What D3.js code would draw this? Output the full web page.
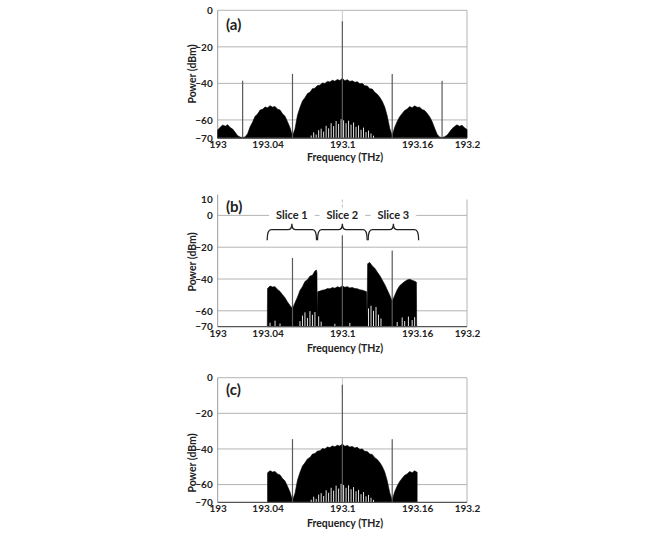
<!DOCTYPE html>
<html>
<head>
<meta charset="utf-8">
<script src="https://cdn.jsdelivr.net/npm/d3@7"></script>
<style>
  html, body { margin: 0; padding: 0; background: #fff; }
  svg { display: block; }
  text { font-family: Lato, "Open Sans", sans-serif; font-weight: bold; fill: #222; }
</style>
</head>
<body>
<div id="chart"></div>
<script>
"use strict";

// x ticks shared by all three panels
const freqTicks = [193, 193.04, 193.1, 193.16, 193.2];
const freqTickLabels = ["193", "193.04", "193.1", "193.16", "193.2"];

const powerTicksAC = [0, -20, -40, -60, -70];
const powerTicksB = [10, 0, -20, -40, -60, -70];

// spectrum (a): upper envelope [THz, dBm], (c) is the same spectrum after filtering
const spectrumA = [
  [193.000, -65.5], [193.002, -64.0], [193.004, -62.8], [193.006, -63.4], [193.008, -62.6],
  [193.010, -64.2], [193.012, -65.0], [193.014, -66.8], [193.016, -68.6], [193.018, -69.4],
  [193.020, -69.6], [193.022, -69.3], [193.024, -67.5], [193.026, -63.8], [193.028, -61.2],
  [193.030, -58.0], [193.032, -56.8], [193.034, -54.6], [193.036, -54.2], [193.038, -52.9],
  [193.040, -53.4], [193.042, -52.2], [193.044, -53.0], [193.046, -52.6], [193.048, -54.1],
  [193.050, -54.6], [193.052, -56.6], [193.054, -58.0], [193.056, -61.0], [193.058, -64.2],
  [193.060, -68.8], [193.062, -65.0], [193.064, -57.5], [193.066, -53.2], [193.068, -49.6],
  [193.070, -47.8], [193.072, -45.6], [193.074, -44.8], [193.076, -42.9], [193.078, -42.6],
  [193.080, -41.2], [193.082, -41.0], [193.084, -39.8], [193.086, -40.0], [193.088, -38.9],
  [193.090, -39.2], [193.092, -38.3], [193.094, -38.8], [193.096, -37.9], [193.098, -38.4],
  [193.100, -37.2], [193.102, -38.5], [193.104, -38.0], [193.106, -38.9], [193.108, -38.6],
  [193.110, -39.4], [193.112, -39.1], [193.114, -40.2], [193.116, -40.0], [193.118, -41.3],
  [193.120, -41.4], [193.122, -42.9], [193.124, -43.1], [193.126, -44.9], [193.128, -45.9],
  [193.130, -47.6], [193.132, -49.8], [193.134, -52.9], [193.136, -57.8], [193.138, -64.6],
  [193.140, -68.6], [193.142, -64.0], [193.144, -60.8], [193.146, -58.2], [193.148, -56.5],
  [193.150, -54.8], [193.152, -54.0], [193.154, -52.7], [193.156, -53.3], [193.158, -52.3],
  [193.160, -53.1], [193.162, -53.0], [193.164, -54.3], [193.166, -54.8], [193.168, -56.4],
  [193.170, -58.2], [193.172, -60.9], [193.174, -64.4], [193.176, -67.8], [193.178, -69.4],
  [193.180, -69.6], [193.182, -69.2], [193.184, -68.4], [193.186, -66.6], [193.188, -64.8],
  [193.190, -63.6], [193.192, -62.7], [193.194, -63.5], [193.196, -62.9], [193.198, -64.3],
  [193.200, -65.2],
];

// troughs between comb lines near the floor (white gaps)
const gapsA = [
  [193.075, -68.5], [193.077, -66.8], [193.079, -68.0], [193.081, -65.6], [193.083, -64.8],
  [193.085, -66.4], [193.087, -63.2], [193.089, -64.6], [193.091, -61.8], [193.093, -63.4],
  [193.095, -60.6], [193.097, -62.2], [193.099, -59.6], [193.101, -60.2], [193.103, -61.8],
  [193.105, -60.4], [193.107, -62.6], [193.109, -61.4], [193.111, -63.8], [193.113, -63.0],
  [193.115, -65.4], [193.117, -64.2], [193.119, -66.6], [193.121, -65.8], [193.123, -67.4],
  [193.125, -68.6],
];

const carriersA = [[193.02, -38.5], [193.06, -34.8], [193.1, -6], [193.14, -34.8], [193.18, -38.5]];
const carriersC = [[193.06, -34.5], [193.1, -4], [193.14, -34.5]];
const bandC = [193.04, 193.16];

// spectrum (b): three slices
const spectrumB = [
  [193.0398, -70], [193.040, -46.0], [193.042, -44.4], [193.044, -45.0], [193.046, -44.8],
  [193.048, -46.6], [193.050, -47.8], [193.052, -49.9], [193.054, -51.8], [193.056, -54.4],
  [193.058, -56.6], [193.060, -58.5], [193.062, -55.0], [193.064, -51.4], [193.066, -47.2],
  [193.068, -44.8], [193.070, -41.6], [193.072, -40.4], [193.074, -38.2], [193.076, -37.6],
  [193.078, -35.0], [193.0792, -34.4], [193.0796, -36.0], [193.0799, -64.0],
  [193.0803, -48.0], [193.082, -47.6], [193.084, -47.0], [193.086, -46.8], [193.088, -46.0],
  [193.090, -46.2], [193.092, -45.4], [193.094, -45.8], [193.096, -44.9], [193.098, -45.3],
  [193.100, -44.4], [193.102, -45.2], [193.104, -44.8], [193.106, -45.6], [193.108, -45.3],
  [193.110, -46.0], [193.112, -46.1], [193.114, -46.8], [193.116, -47.0], [193.118, -47.6],
  [193.1194, -48.0], [193.1198, -64.0],
  [193.1203, -30.4], [193.122, -29.6], [193.124, -31.8], [193.126, -33.2], [193.128, -35.6],
  [193.130, -37.8], [193.132, -40.6], [193.134, -43.4], [193.136, -46.8], [193.138, -50.2],
  [193.140, -54.0], [193.142, -50.4], [193.144, -46.8], [193.146, -44.2], [193.148, -42.9],
  [193.150, -41.6], [193.152, -40.6], [193.154, -40.2], [193.156, -40.8], [193.158, -41.4],
  [193.1594, -42.0], [193.1596, -70],
];

const gapsB = [
  [193.042, -67.5], [193.046, -66.2], [193.050, -68.0], [193.066, -66.5], [193.068, -63.0],
  [193.070, -61.0], [193.072, -64.5], [193.074, -60.2], [193.076, -62.5], [193.078, -60.8],
  [193.081, -63.5], [193.083, -66.8], [193.094, -68.2], [193.106, -67.6], [193.121, -58.5],
  [193.123, -56.8], [193.125, -60.0], [193.127, -57.6], [193.129, -62.4], [193.131, -64.8],
  [193.144, -67.0], [193.148, -64.2], [193.150, -66.5], [193.153, -63.6], [193.156, -65.8],
  [193.158, -64.0],
];

const carriersB = [[193.06, -26.8], [193.1, -12.5], [193.14, -22]];

const sliceLabels = ["Slice 1", "Slice 2", "Slice 3"];
const sliceStart = [193.0397, 193.0801, 193.1207];
const sliceEnd = [193.0793, 193.1199, 193.1612];

const W = 647, H = 536;

const svg = d3.select("#chart").append("svg")
  .attr("width", W).attr("height", H);
svg.append("rect").attr("width", W).attr("height", H).attr("fill", "#fff");

const x = d3.scaleLinear().domain([193, 193.2]).range([217.7, 467]);

const panels = [
  {
    name: "(a)", ticks: powerTicksAC, grid: [0, -20, -40, -60],
    y: d3.scaleLinear().domain([-70, 0]).range([138.2, 10.3]),
    spectrum: spectrumA, gaps: gapsA, carriers: carriersA,
    labelY: 30, xTitleY: 161, yTitleY: 74,
  },
  {
    name: "(b)", ticks: powerTicksB, grid: [0, -20, -40, -60],
    y: d3.scaleLinear().domain([-70, 10]).range([326.7, 199.5]),
    spectrum: spectrumB, gaps: gapsB, carriers: carriersB,
    labelY: 211.5, xTitleY: 351.5, yTitleY: 262, slices: true,
  },
  {
    name: "(c)", ticks: powerTicksAC, grid: [0, -20, -40, -60],
    y: d3.scaleLinear().domain([-70, 0]).range([502.4, 377.7]),
    spectrum: spectrumA.filter((d) => d[0] >= bandC[0] && d[0] <= bandC[1]),
    gaps: gapsA, carriers: carriersC,
    labelY: 395, xTitleY: 527, yTitleY: 463, band: bandC,
  },
];

panels.forEach(drawPanel);

function drawPanel(p) {
  const y = p.y;
  const g = svg.append("g");
  const top = y.range()[1];
  const bottom = y(-70);

  // gridlines
  g.selectAll(".grid")
    .data(p.grid)
    .enter()
    .append("line")
    .attr("x1", x(193)).attr("x2", x(193.2))
    .attr("y1", (d) => y(d)).attr("y2", (d) => y(d))
    .attr("stroke", "#b4b4b4").attr("stroke-width", 1);

  // frame: left, right
  const frameTop = p.slices ? top - 5 : top;
  g.append("line").attr("x1", x(193)).attr("x2", x(193))
    .attr("y1", frameTop).attr("y2", bottom).attr("stroke", "#9a9a9a");
  g.append("line").attr("x1", x(193.2)).attr("x2", x(193.2))
    .attr("y1", top).attr("y2", bottom).attr("stroke", "#b4b4b4");

  // light centre marker at 193.1
  if (p.slices) {
    g.append("line").attr("x1", x(193.1)).attr("x2", x(193.1))
      .attr("y1", y(10)).attr("y2", y(5))
      .attr("stroke", "#bbb").attr("stroke-dasharray", "3,2");
  } else {
    g.append("line").attr("x1", x(193.1)).attr("x2", x(193.1))
      .attr("y1", y(0)).attr("y2", y(-10))
      .attr("stroke", "#c8c8c8");
  }

  // spectrum
  const area = d3.area()
    .x((d) => x(d[0]))
    .y0(bottom)
    .y1((d) => y(d[1]));

  g.append("path")
    .datum(p.spectrum)
    .attr("d", area)
    .attr("fill", "#000")
    .attr("stroke", "#000")
    .attr("stroke-width", 0.6);

  const gaps = p.band
    ? p.gaps.filter((d) => d[0] >= p.band[0] && d[0] <= p.band[1])
    : p.gaps;
  g.selectAll(".gap")
    .data(gaps)
    .enter()
    .append("line")
    .attr("x1", (d) => x(d[0])).attr("x2", (d) => x(d[0]))
    .attr("y1", bottom).attr("y2", (d) => y(d[1]))
    .attr("stroke", "#fff").attr("stroke-width", 0.9);

  g.selectAll(".carrier")
    .data(p.carriers)
    .enter()
    .append("line")
    .attr("x1", (d) => x(d[0])).attr("x2", (d) => x(d[0]))
    .attr("y1", bottom).attr("y2", (d) => y(d[1]))
    .attr("stroke", "#5a5a5a").attr("stroke-width", 1.2);

  // x axis line
  g.append("line").attr("x1", x(193)).attr("x2", x(193.2))
    .attr("y1", bottom).attr("y2", bottom)
    .attr("stroke", "#555").attr("stroke-width", 1.2);

  // axes (labels only)
  const yAxis = g.append("g")
    .attr("transform", `translate(${x(193)},0)`)
    .call(d3.axisLeft(y).tickValues(p.ticks).tickSize(0).tickPadding(5));
  yAxis.select(".domain").remove();
  yAxis.selectAll("text")
    .attr("font-family", "Lato, sans-serif")
    .attr("font-weight", "bold")
    .attr("font-size", 10)
    .attr("fill", "#222");

  const xAxis = g.append("g")
    .attr("transform", `translate(0,${bottom})`)
    .call(d3.axisBottom(x).tickValues(freqTicks)
      .tickFormat((d, i) => freqTickLabels[i])
      .tickSize(0).tickPadding(3));
  xAxis.select(".domain").remove();
  xAxis.selectAll("text")
    .attr("font-family", "Lato, sans-serif")
    .attr("font-weight", "bold")
    .attr("font-size", 10)
    .attr("fill", "#222");

  // titles
  g.append("text")
    .attr("x", 345).attr("y", p.xTitleY)
    .attr("text-anchor", "middle")
    .attr("font-size", 10.5)
    .text("Frequency (THz)");

  g.append("text")
    .attr("transform", `translate(196,${p.yTitleY}) rotate(-90)`)
    .attr("text-anchor", "middle")
    .attr("font-size", 10.5)
    .text("Power (dBm)");

  g.append("text")
    .attr("x", 226).attr("y", p.labelY)
    .attr("font-size", 15)
    .text(p.name);

  if (p.slices) drawSlices(g, y);
}

function drawSlices(g, y) {
  const yLabel = y(0);
  const yTop = y(-9);
  const yEnd = y(-15.6);
  const yTip = y(-5.2);
  const r = 4;

  sliceLabels.forEach((label, i) => {
    const x0 = x(sliceStart[i]);
    const x1 = x(sliceEnd[i]);
    const xm = (x0 + x1) / 2;

    const mask = g.append("rect").attr("fill", "#fff");
    const t = g.append("text")
      .attr("x", xm).attr("y", yLabel + 4)
      .attr("text-anchor", "middle")
      .attr("font-size", 11)
      .text(label);
    const bb = t.node().getBBox();
    mask.attr("x", bb.x - 7).attr("y", yLabel - 2)
      .attr("width", bb.width + 14).attr("height", 4);

    const path = d3.path();
    path.moveTo(x0, yEnd);
    path.quadraticCurveTo(x0, yTop, x0 + r, yTop);
    path.lineTo(xm - r, yTop);
    path.quadraticCurveTo(xm, yTop, xm, yTip);
    path.quadraticCurveTo(xm, yTop, xm + r, yTop);
    path.lineTo(x1 - r, yTop);
    path.quadraticCurveTo(x1, yTop, x1, yEnd);

    g.append("path")
      .attr("d", path.toString())
      .attr("fill", "none")
      .attr("stroke", "#222")
      .attr("stroke-width", 1.3);
  });
}
</script>
</body>
</html>
